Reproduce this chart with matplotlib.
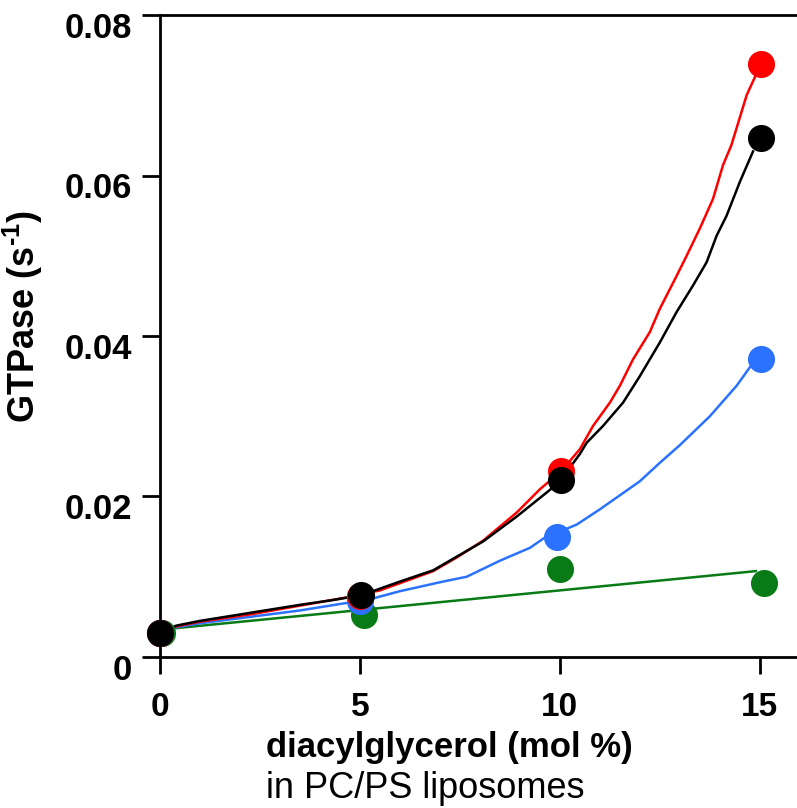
import matplotlib
matplotlib.use("Agg")
import matplotlib.pyplot as plt
from matplotlib.transforms import ScaledTranslation

plt.rcParams['font.family'] = ['Liberation Sans', 'DejaVu Sans']
plt.rcParams['mathtext.fontset'] = 'custom'
plt.rcParams['mathtext.bf'] = 'Liberation Sans:bold'
plt.rcParams['mathtext.rm'] = 'Liberation Sans:bold'
plt.rcParams['mathtext.default'] = 'bf'

# measured points (markers)
red_x = [0, 5, 10.03, 15.03]
red_y = [0.003, 0.0076, 0.0232, 0.0739]
black_x = [0, 5.03, 10.03, 15.03]
black_y = [0.003, 0.00775, 0.0220, 0.0647]
blue_x = [0, 5, 9.93, 15.03]
blue_y = [0.003, 0.0070, 0.0150, 0.0371]
green_x = [0.05, 5.1, 10.0, 15.1]
green_y = [0.003, 0.0052, 0.0110, 0.0092]

# fitted curves
red_cx = [0.0, 0.4, 1.0, 2.25, 3.5, 4.75, 5.5, 6.0, 6.83, 7.42, 8.08, 8.92, 9.5,
          10.04, 10.5, 10.83, 11.25, 11.5, 11.83, 12.25, 12.5, 12.92, 13.17, 13.5,
          13.83, 14.08, 14.29, 14.67, 14.88]
red_cy = [0.0030, 0.0038, 0.0044, 0.0053, 0.0064, 0.0075, 0.0083, 0.0092, 0.0107,
          0.0124, 0.0145, 0.0180, 0.0209, 0.0232, 0.0259, 0.0288, 0.0317, 0.0338,
          0.0371, 0.0405, 0.0434, 0.0475, 0.0500, 0.0534, 0.0571, 0.0613, 0.0638,
          0.0700, 0.0723]
black_cx = [0.0, 0.4, 1.0, 2.25, 3.5, 4.33, 5.04, 6.0, 6.83, 7.42, 8.08, 8.92, 9.67,
            10.04, 10.25, 10.5, 10.67, 11.08, 11.58, 12.0, 12.5, 12.92, 13.33, 13.67,
            13.92, 14.17, 14.5, 14.83]
black_cy = [0.0030, 0.0039, 0.0045, 0.0055, 0.0065, 0.0071, 0.0077, 0.0094, 0.0108,
            0.0125, 0.0144, 0.0175, 0.0205, 0.0220, 0.0236, 0.0253, 0.0267, 0.0288,
            0.0317, 0.0350, 0.0392, 0.0430, 0.0463, 0.0492, 0.0525, 0.0550, 0.0592,
            0.0630]
blue_cx = [0.0, 0.4, 1.0, 2.25, 3.5, 4.75, 5.33, 6.0, 7.08, 7.67, 8.5, 9.25, 9.6,
           10.42, 11.0, 12.0, 12.5, 13.0, 13.75, 14.42, 14.75, 14.9]
blue_cy = [0.0030, 0.0037, 0.0042, 0.0050, 0.0058, 0.0068, 0.0073, 0.0082, 0.0094,
           0.0100, 0.0120, 0.0136, 0.0148, 0.0165, 0.0184, 0.0219, 0.0242, 0.0264,
           0.0300, 0.0338, 0.0361, 0.0368]
green_cx = [0.0, 14.9]
green_cy = [0.0034, 0.0107]

xticks = [0, 5, 10, 15]
yticks = [0, 0.02, 0.04, 0.06, 0.08]
ytick_labels = ["0", "0.02", "0.04", "0.06", "0.08"]

c_red = "#ff0000"
c_black = "#000000"
c_blue = "#2a72ff"
c_green = "#087a16"

fig = plt.figure(figsize=(7.97, 8.08), dpi=100)
ax = fig.add_axes([0.2008, 0.1869, 0.7992, 0.7945])

lw = 1.8
ax.plot(green_cx, green_cy, color=c_green, lw=lw, clip_on=False, zorder=2)
ax.plot(blue_cx, blue_cy, color=c_blue, lw=lw, clip_on=False, zorder=2)
ax.plot(red_cx, red_cy, color=c_red, lw=lw, clip_on=False, zorder=2)
ax.plot(black_cx, black_cy, color=c_black, lw=lw, clip_on=False, zorder=2)

ms = 19.5
for xs, ys, c in [(green_x, green_y, c_green), (blue_x, blue_y, c_blue),
                  (red_x, red_y, c_red), (black_x, black_y, c_black)]:
    ax.plot(xs, ys, "o", color=c, ms=ms, mec="none", clip_on=False, zorder=3)

ax.set_xlim(0, 15.93)
ax.set_ylim(0, 0.08)
ax.set_xticks(xticks)
ax.set_xticklabels([str(t) for t in xticks])
ax.set_yticks(yticks)
ax.set_yticklabels(ytick_labels)

ax.spines["right"].set_visible(False)
for s in ["left", "top", "bottom"]:
    ax.spines[s].set_linewidth(2)
ax.tick_params(axis="x", length=12, width=2, pad=13, labelsize=24)
ax.tick_params(axis="y", length=13, width=2, pad=7, labelsize=25)
for lab in ax.get_xticklabels() + ax.get_yticklabels():
    lab.set_fontweight("bold")
for lab in ax.get_yticklabels():
    lab.set_transform(lab.get_transform() + ScaledTranslation(0, -7 / 72, fig.dpi_scale_trans))

ax.set_ylabel(r"GTPase (s$^{\text{-}1}$)", fontsize=26, fontweight="bold", va="center", ha="center")
ax.yaxis.set_label_coords(-0.215, 0.53)

fig.text(266 / 797, 1 - 757 / 808, "diacylglycerol (mol %)", fontsize=25,
         fontweight="bold", ha="left", va="baseline")
fig.text(266 / 797, 1 - 798 / 808, "in PC/PS liposomes", fontsize=26,
         ha="left", va="baseline")

fig.savefig("out.png", dpi=100)
